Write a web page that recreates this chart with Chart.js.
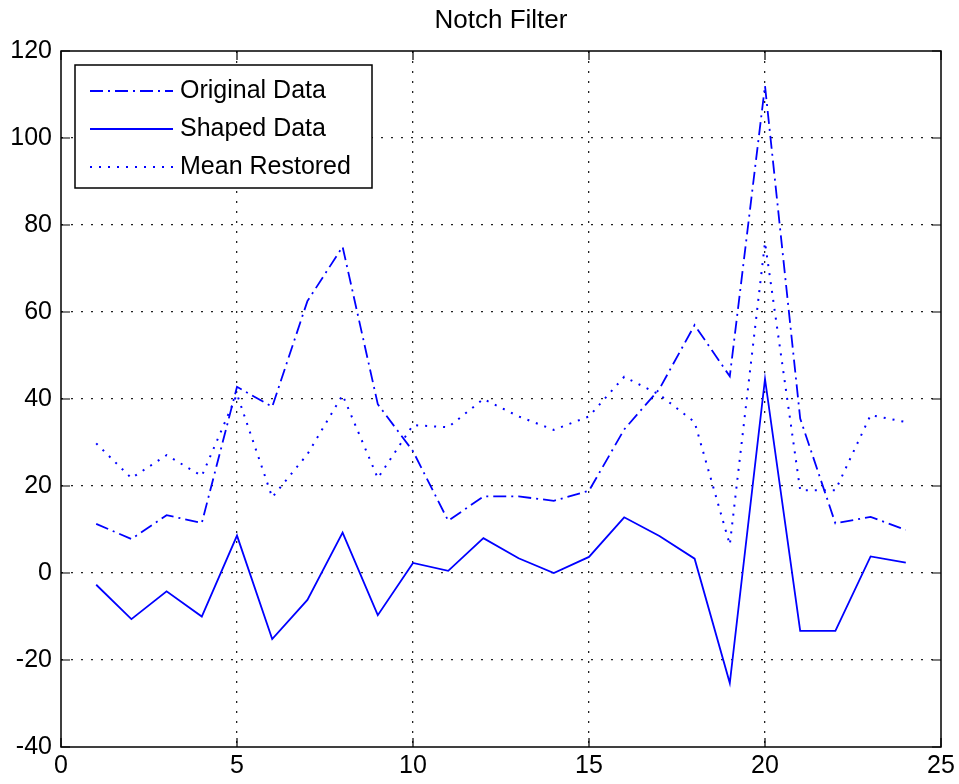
<!DOCTYPE html>
<html>
<head>
<meta charset="utf-8">
<title>Notch Filter</title>
<script src="https://cdn.jsdelivr.net/npm/chart.js@4.4.1/dist/chart.umd.min.js"></script>
<style>
    html, body { margin: 0; padding: 0; background: #fff; }
    #wrap { width: 959px; height: 784px; }
</style>
</head>
<body>
<div id="wrap"><canvas id="chart"></canvas></div>
<script>
// ================= DATA =================
const chartTitle = "Notch Filter";
const xValues = [1, 2, 3, 4, 5, 6, 7, 8, 9, 10, 11, 12, 13, 14, 15, 16, 17, 18, 19, 20, 21, 22, 23, 24];
const originalData = [11.3, 7.8, 13.3, 11.5, 42.8, 38.2, 62.5, 75, 38.8, 28, 12, 17.6, 17.6, 16.6, 18.9, 33, 42.3, 57, 45.2, 112, 35.5, 11.4, 12.9, 9.9];
const shapedData = [-2.7, -10.6, -4.2, -10, 8.6, -15.2, -6.2, 9.3, -9.7, 2.3, 0.5, 8, 3.4, 0, 3.7, 12.8, 8.5, 3.3, -25.3, 44.6, -13.3, -13.3, 3.8, 2.4];
const meanRestored = [29.8, 21.8, 27.1, 22.3, 41.1, 17.4, 27.3, 40.9, 21.8, 34, 33.5, 40, 36, 32.9, 36, 45.1, 41, 34.7, 6.5, 76, 19, 19, 36.3, 34.7];
const seriesLabels = ["Original Data", "Shaped Data", "Mean Restored"];
const xTicks = [0, 5, 10, 15, 20, 25];
const yTicks = [-40, -20, 0, 20, 40, 60, 80, 100, 120];

const FONT = "'Liberation Sans', Arial, sans-serif";
const BLUE = "#0000ff";
const styles = [
    { dash: [13, 5, 2, 5], width: 1.8 },
    { dash: [], width: 1.8 },
    { dash: [2, 7], width: 2 }
];

const toPoints = ys => ys.map((y, i) => ({ x: xValues[i], y }));

// ================= BOX, TICKS, LEGEND, TITLE =================
const matlabPlugin = {
    id: "matlab",
    afterDraw(chart) {
        const { ctx, chartArea: a, scales } = chart;
        ctx.save();

        // inward tick marks on all four sides
        ctx.strokeStyle = "#000";
        ctx.lineWidth = 1.2;
        ctx.beginPath();
        xTicks.forEach(v => {
            const px = scales.x.getPixelForValue(v);
            ctx.moveTo(px, a.bottom); ctx.lineTo(px, a.bottom - 9);
            ctx.moveTo(px, a.top); ctx.lineTo(px, a.top + 9);
        });
        yTicks.forEach(v => {
            const py = scales.y.getPixelForValue(v);
            ctx.moveTo(a.left, py); ctx.lineTo(a.left + 9, py);
            ctx.moveTo(a.right, py); ctx.lineTo(a.right - 9, py);
        });
        ctx.stroke();

        // axes box
        ctx.lineWidth = 1.5;
        ctx.strokeRect(a.left, a.top, a.right - a.left, a.bottom - a.top);

        // legend
        const lx = a.left + 14, ly = a.top + 14, lw = 297, lh = 123;
        ctx.fillStyle = "#fff";
        ctx.fillRect(lx, ly, lw, lh);
        ctx.lineWidth = 1.5;
        ctx.strokeStyle = "#000";
        ctx.strokeRect(lx, ly, lw, lh);
        ctx.font = "25px " + FONT;
        ctx.textBaseline = "middle";
        ctx.textAlign = "left";
        chart.data.datasets.forEach((ds, i) => {
            const yy = ly + 26 + i * 38;
            ctx.strokeStyle = BLUE;
            ctx.lineWidth = styles[i].width;
            ctx.setLineDash(styles[i].dash);
            ctx.beginPath();
            ctx.moveTo(lx + 15, yy);
            ctx.lineTo(lx + 98, yy);
            ctx.stroke();
            ctx.setLineDash([]);
            ctx.fillStyle = "#000";
            ctx.fillText(ds.label, lx + 105, yy);
        });

        // title centred over the axes
        ctx.font = "26px " + FONT;
        ctx.textAlign = "center";
        ctx.fillStyle = "#000";
        ctx.fillText(chartTitle, (a.left + a.right) / 2, 21);
        ctx.restore();
    }
};

// ================= CHART =================
new Chart(document.getElementById("chart"), {
    type: "line",
    data: {
        datasets: [originalData, shapedData, meanRestored].map((d, i) => ({
            label: seriesLabels[i],
            data: toPoints(d),
            borderColor: BLUE,
            borderWidth: styles[i].width,
            borderDash: styles[i].dash,
            pointRadius: 0,
            tension: 0,
            fill: false
        }))
    },
    options: {
        responsive: true,
        maintainAspectRatio: false,
        animation: false,
        layout: { padding: { top: 51, right: 18, left: 0, bottom: 0 } },
        plugins: {
            legend: { display: false },
            title: { display: false },
            tooltip: { enabled: false }
        },
        scales: {
            x: {
                type: "linear",
                min: 0,
                max: 25,
                afterBuildTicks: s => { s.ticks = xTicks.map(v => ({ value: v })); },
                afterFit: s => { s.height = 37; },
                ticks: { color: "#000", font: { family: FONT, size: 25 }, padding: 4, maxRotation: 0 },
                grid: {
                    drawTicks: false,
                    color: ctx => (ctx.tick && (ctx.tick.value === 0 || ctx.tick.value === 25)) ? "rgba(0,0,0,0)" : "#222",
                    lineWidth: 1.3
                },
                border: { display: false, dash: [2, 8] }
            },
            y: {
                min: -40,
                max: 120,
                afterBuildTicks: s => { s.ticks = yTicks.map(v => ({ value: v })); },
                afterFit: s => { s.width = 61; },
                ticks: { color: "#000", font: { family: FONT, size: 25 }, padding: 9 },
                grid: {
                    drawTicks: false,
                    color: ctx => (ctx.tick && (ctx.tick.value === -40 || ctx.tick.value === 120)) ? "rgba(0,0,0,0)" : "#222",
                    lineWidth: 1.3
                },
                border: { display: false, dash: [2, 8] }
            }
        }
    },
    plugins: [matlabPlugin]
});
</script>
</body>
</html>
